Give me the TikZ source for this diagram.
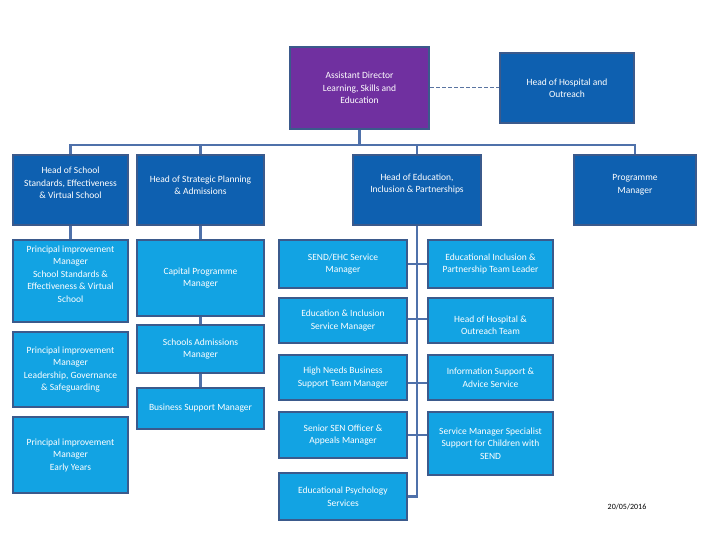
\documentclass[tikz,border=0pt]{standalone}
\usepackage{fontspec}
\setmainfont{Carlito}
\definecolor{cpurple}{RGB}{112,48,160}
\definecolor{cdark}{RGB}{14,96,176}
\definecolor{clight}{RGB}{18,163,227}
\definecolor{cborder}{RGB}{59,90,140}
\definecolor{cline}{RGB}{79,113,170}
\begin{document}
\begin{tikzpicture}[x=1pt,y=-1pt,
  box/.style={draw=cborder, line width=2pt, text=white, align=center, inner sep=0pt,
    font=\fontsize{9.5}{12.5}\selectfont},
  pbox/.style={box, fill=cpurple},
  dbox/.style={box, fill=cdark},
  lbox/.style={box, fill=clight},
  txt/.style={text=white, align=center, inner sep=0pt, font=\fontsize{9.5}{12.5}\selectfont},
  conn/.style={draw=cline, line width=2.5pt},
  dconn/.style={draw=cline!80!gray, line width=1pt, dashed, dash pattern=on 4pt off 2pt}]
\useasboundingbox (0,0) rectangle (720,540);
\fill[white] (0,0) rectangle (720,540);
% top
\node[pbox, minimum width=139pt, minimum height=82pt] (ad) at (359.5,88) {Assistant Director\\Learning, Skills and\\Education};
\node[dbox, minimum width=134pt, minimum height=70pt] (hho) at (567,88) {Head of Hospital and\\Outreach};
% level 1
\node[dbox, minimum width=115pt, minimum height=70pt] (hs) at (70.5,190) {};
\node[txt] (hst) at (70.5,183) {Head of School\\Standards, Effectiveness\\\& Virtual School};
\node[dbox, minimum width=127pt, minimum height=70pt] (sp) at (200.5,190) {};
\node[txt] (spt) at (200.5,185) {Head of Strategic Planning\\\& Admissions};
\node[dbox, minimum width=128pt, minimum height=70pt] (he) at (417,190) {};
\node[txt] (het) at (417,184) {Head of Education,\\Inclusion \& Partnerships};
\node[dbox, minimum width=122pt, minimum height=70pt] (pm) at (635,190) {};
\node[txt] (pmt) at (635,185) {Programme\\Manager};
% left column
\node[lbox, minimum width=115pt, minimum height=82pt] (p1) at (70.5,281) {};
\node[txt] (p1t) at (70.5,274) {Principal improvement\\Manager\\School Standards \&\\Effectiveness \& Virtual\\School};
\node[lbox, minimum width=115pt, minimum height=75pt] (p2) at (70.5,369.5) {Principal improvement\\Manager\\Leadership, Governance\\\& Safeguarding};
\node[lbox, minimum width=115pt, minimum height=76pt] (p3) at (70.5,455) {Principal improvement\\Manager\\Early Years};
% second column
\node[lbox, minimum width=127pt, minimum height=76pt] (cp) at (200.5,278) {Capital Programme\\Manager};
\node[lbox, minimum width=127pt, minimum height=48pt] (sa) at (200.5,349) {Schools Admissions\\Manager};
\node[lbox, minimum width=127pt, minimum height=41pt] (bs) at (200.5,408.5) {Business Support Manager};
% education column left
\node[lbox, minimum width=128pt, minimum height=48pt] (send) at (343,264) {SEND/EHC Service\\Manager};
\node[lbox, minimum width=128pt, minimum height=45pt] (eis) at (343,320.5) {Education \& Inclusion\\Service Manager};
\node[lbox, minimum width=128pt, minimum height=45pt] (hn) at (343,377.5) {High Needs Business\\Support Team Manager};
\node[lbox, minimum width=128pt, minimum height=46pt] (sen) at (343,435) {Senior SEN Officer \&\\Appeals Manager};
\node[lbox, minimum width=128pt, minimum height=47pt] (eps) at (343,496.5) {Educational Psychology\\Services};
% education column right
\node[lbox, minimum width=125pt, minimum height=48pt] (eip) at (490.5,264) {Educational Inclusion \&\\Partnership Team Leader};
\node[lbox, minimum width=125pt, minimum height=45pt] (hhot) at (490.5,320.5) {};
\node[txt] (hhott) at (490.5,325) {Head of Hospital \&\\Outreach Team};
\node[lbox, minimum width=125pt, minimum height=45pt] (isa) at (490.5,377.5) {Information Support \&\\Advice Service};
\node[lbox, minimum width=125pt, minimum height=63pt] (sms) at (490.5,443.5) {Service Manager Specialist\\Support for Children with\\SEND};
% date
\node[inner sep=0pt, font=\fontsize{8}{9}\selectfont] (date) at (627,507) {20/05/2016};
% connectors
\coordinate (bus) at (0,145);
\draw[dconn] (ad.east) -- (hho.west);
\draw[conn] (ad.south) -- (ad.south |- bus);
\draw[conn] (hs.north) -- (hs.north |- bus) -- (pm.north |- bus) -- (pm.north);
\draw[conn] (sp.north) -- (sp.north |- bus);
\draw[conn] (he.north) -- (he.north |- bus);
\draw[conn] (hs.south) -- (p1.north);
\draw[conn] (sp.south) -- (cp.north);
\draw[conn] (cp.south) -- (sa.north);
\draw[conn] (sa.south) -- (bs.north);
\draw[conn] (he.south) -- (he.south |- eps.east) -- (eps.east);
\draw[conn] (send.east) -- (eip.west);
\draw[conn] ([yshift=1.5pt]eis.east) -- ([yshift=1.5pt]hhot.west);
\draw[conn] ([yshift=-5.5pt]hn.east) -- ([yshift=-5.5pt]isa.west);
\draw[conn] (sen.east) -- (sen.east -| sms.west);
\end{tikzpicture}
\end{document}
